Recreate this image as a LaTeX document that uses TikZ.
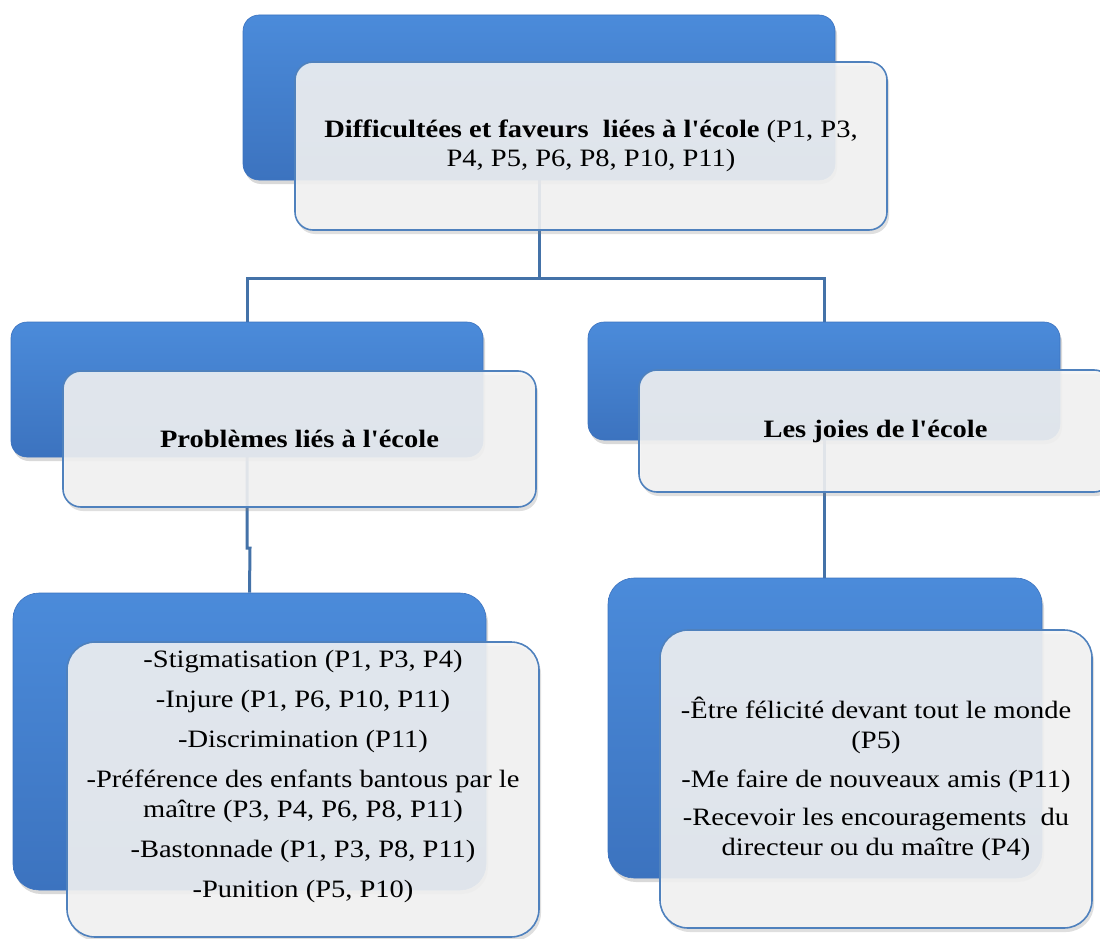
\documentclass[tikz,border=0pt]{standalone}
\usepackage{fontspec}
\setmainfont{Liberation Serif}[FakeStretch=1.14, Ligatures=TeXOff]
\usetikzlibrary{shadows,backgrounds}

\definecolor{boxtop}{HTML}{4B8BDA}
\definecolor{boxbot}{HTML}{3C73BF}
\definecolor{edgec}{HTML}{4F81BD}
\definecolor{linkc}{HTML}{4472A8}
\definecolor{paper}{HTML}{F4F4F4}

\begin{document}
\begin{tikzpicture}[x=1pt,y=-1pt,
  backbox/.style={rounded corners=16pt, top color=boxtop, bottom color=boxbot,
    draw=boxbot, line width=0.6pt, inner sep=0pt,
    drop shadow={shadow xshift=2pt,shadow yshift=-4pt,opacity=0.3}},
  frontbox/.style={rounded corners=18pt, fill=paper, fill opacity=0.88, text opacity=1,
    draw=edgec, line width=1.6pt, inner sep=0pt, align=center,
    font=\fontsize{25}{29}\selectfont,
    drop shadow={shadow xshift=2pt,shadow yshift=-4pt,opacity=0.25}},
  link/.style={draw=linkc, line width=3pt}]
  \useasboundingbox (0,0) rectangle (1100,939);
  % top level
  \node (diffbg) [backbox, minimum width=592pt, minimum height=165pt] at (539,97.5) {};
  \node (diff) [frontbox, minimum width=592pt, minimum height=168pt] at (591,146)
    {\textbf{Difficultées et faveurs~ liées à l'école} (P1, P3,\\ P4, P5, P6, P8, P10, P11)};
  % second level
  \node (probbg) [backbox, minimum width=472pt, minimum height=135pt] at (247,389.5) {};
  \node (prob) [frontbox, minimum width=473pt, minimum height=136pt] at (299.5,439)
    {\textbf{Problèmes liés à l'école}};
  \node (joiebg) [backbox, minimum width=472pt, minimum height=118pt] at (824,381) {};
  \node (joie) [frontbox, minimum width=473pt, minimum height=122pt] at (875.5,431)
    {\textbf{Les joies de l'école}};
  % lists
  \node (plistbg) [backbox, rounded corners=26pt, minimum width=473pt, minimum height=297pt] at (249.5,741.5) {};
  \node (plist) [frontbox, rounded corners=28pt, minimum width=472pt, minimum height=295pt,
    font=\fontsize{25}{30}\selectfont] at (303,789.5)
    {-Stigmatisation (P1, P3, P4)\\[10pt]
     -Injure (P1, P6, P10, P11)\\[10pt]
     -Discrimination (P11)\\[10pt]
     -Préférence des enfants bantous par le\\ maître (P3, P4, P6, P8, P11)\\[10pt]
     -Bastonnade (P1, P3, P8, P11)\\[10pt]
     -Punition (P5, P10)\\[2pt]\mbox{}};
  \node (jlistbg) [backbox, rounded corners=26pt, minimum width=434pt, minimum height=300pt] at (825,728) {};
  \node (jlist) [frontbox, rounded corners=28pt, minimum width=432pt, minimum height=298pt,
    font=\fontsize{25}{30}\selectfont] at (876,779)
    {-Être félicité devant tout le monde\\ (P5)\\[9pt]
     -Me faire de nouveaux amis (P11)\\[8pt]
     -Recevoir les encouragements~ du\\ directeur ou du maître (P4)};
  % connectors behind the boxes
  \coordinate (split) at (539,278);
  \coordinate (jog) at (250,548);
  \begin{scope}[on background layer]
    \draw[link] (diffbg.center) -- (split);
    \draw[link] (probbg.north) |- (split) -| (joiebg.north);
    \draw[link] (probbg.center) |- (jog) -- (plistbg.north);
    \draw[link] (joiebg.center) -- (joiebg.center |- jlistbg.north);
  \end{scope}
\end{tikzpicture}
\end{document}
